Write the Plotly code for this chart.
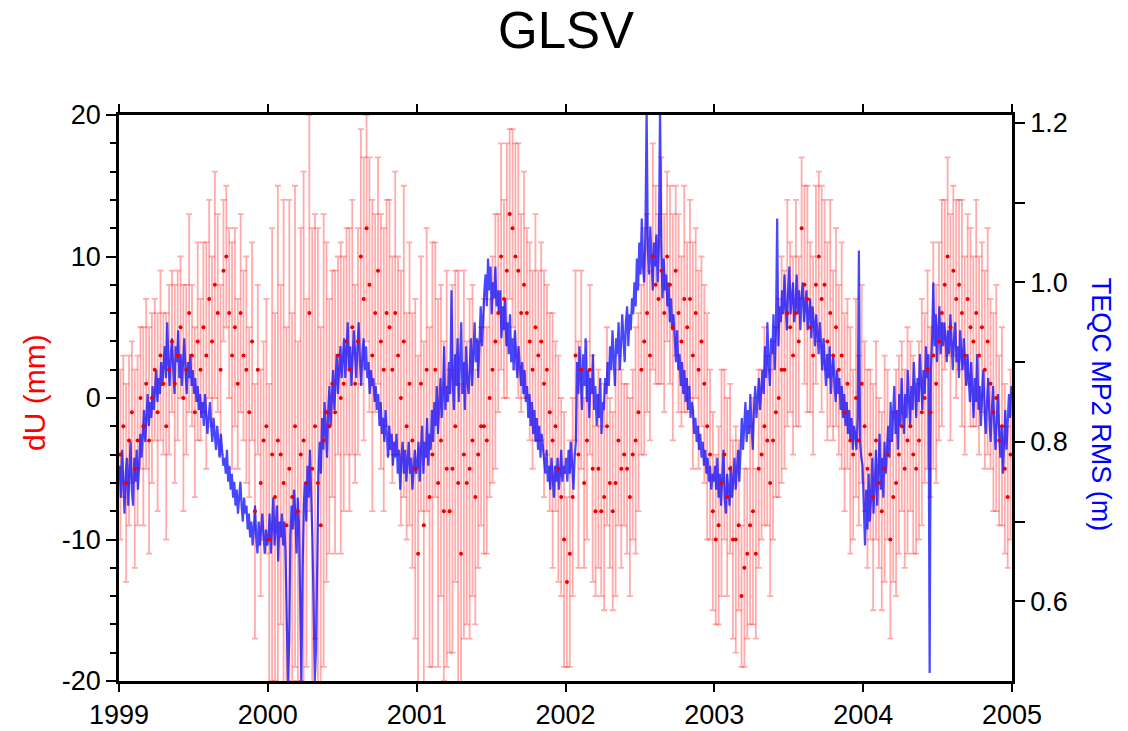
import plotly.graph_objects as go

# ---------------- data ----------------
years = [1999, 2000, 2001, 2002, 2003, 2004]
xtick_vals = [1999, 2000, 2001, 2002, 2003, 2004, 2005]
xtick_text = ["1999", "2000", "2001", "2002", "2003", "2004", "2005"]

# weekly vertical position dU (mm)
du_1999 = [-4, -2, -6, -3, -1, -5, -3, 0,
           -2, 1, -3, 0, 2, -1, 3, 1, -2, 2,
           4, 1, 3, 5, 0, 2, 6, 3, -1, 4, 2,
           5, 3, 7, 4, 8, 6, 2, 9, 10, 6, 3, 5, 1,
           6, 3, 2, -1, 4, -8, 2, -6, -3, -2]
du_2000 = [-10, -4, -7, -3, -4, -6, -9, -5, -7, -2, -8,
           -4, -3, -6, 6, -5, -2, -6, -9, -3, -1,
           -2, 1, -1, 3, 0, 1, 4, 2, 5, 1,
           4, 10, 7, 12, 8, 3, 6, 9, 4, 2, 6,
           5, 2, 6, 3, 0, 4, -2, 1, -3, -5]
du_2001 = [-11, 1, -9, 2, -7, -4, 2, -6, -3, -8, -5,
           -8, -5, -2, -6, -11, -4, -6, -5, -3, -7,
           -4, -2, -2, -3, 0, 2, 4, 6,
           10, 7, 9, 13, 12, 10, 9, 6, 8, 6, 4,
           2, 5, 3, 4, 1, 2, -1, -3, -2, -5, -7, -10]
du_2002 = [-13, -11, -7, 3, -4, 2, -6,
           -3, 2, -5, -8, -5, -8, -7, -2,
           -6, -8, -6, -3, -5, -4, -5, -7, -4, -3,
           -1, 2, 4, 6, 3, 10,
           8, 7, 9, 6, 10, 8, 5, 9, 6, 4, 7,
           5, 7, 3, 6, 2, 4, 1, -2, -4, -8]
du_2003 = [-10, -9, -6, -4, -7, -5, -10, -10, -9,
           -14, -12, -11, -9, -8, -11, -5, -4,
           -2, -3, -6, -3, -1, 0, 2,
           2, 6, 5, 3, 6, 4, 12, 8, 7, 5, 3,
           8, 10, 7, 8, 4, 6, 3, 5, 2, 3,
           -1, 1, -3, -4, 0, -3, 1]
du_2004 = [-2, -5, -4, -7, -3, -6, -8, -5, -4,
           -10, -7, -6, -4, -2, -5, -3, -2, -4, -5,
           -3, -1, 0, 2, -1, 3, 1,
           4, 6, 8, 10, 5, 9, 7, 8, 6, 3, 7,
           5, 4, 6, 3, 5, 2, 4, 1,
           -1, 0, -3, -2, -5, -7, -4]

# weekly dU uncertainty (mm)
err_1999 = [6, 5, 7, 6, 5, 7, 6, 5,
            7, 6, 8, 6, 5, 7, 6, 5, 8, 6,
            5, 7, 6, 5, 8, 6, 7, 5, 6, 7, 5,
            6, 8, 7, 6, 8, 7, 6, 5, 5, 6, 8, 7, 6,
            7, 6, 8, 6, 7, 9, 6, 8, 7, 9]
err_2000 = [11, 16, 13, 18, 12, 20, 14, 19, 13, 17, 12,
            16, 19, 13, 14, 17, 15, 18, 14, 16, 12,
            9, 8, 10, 7, 11, 9, 8, 10, 9, 7,
            8, 9, 10, 8, 9, 11, 7, 8, 9, 10, 8,
            9, 8, 10, 7, 9, 11, 8, 10, 9, 12]
err_2001 = [14, 9, 13, 10, 12, 15, 9, 13, 11, 12, 14,
            10, 13, 11, 15, 12, 13, 10, 12, 11, 9,
            8, 7, 9, 8, 7, 8, 9, 7,
            8, 7, 9, 6, 7, 8, 9, 7, 8, 6, 7,
            7, 8, 6, 7, 8, 6, 7, 9, 6, 8, 7, 9]
err_2002 = [6, 8, 7, 6, 8, 7, 6,
            7, 6, 8, 6, 7, 6, 8, 7,
            6, 7, 8, 6, 7, 5, 6, 7, 6, 8,
            7, 6, 8, 7, 6, 8,
            7, 6, 8, 7, 6, 7, 8, 6, 7, 6, 8,
            6, 7, 8, 6, 7, 6, 7, 8, 6, 7]
err_2003 = [6, 7, 8, 6, 7, 6, 7, 8, 6,
            5, 7, 6, 7, 8, 6, 7, 6,
            7, 6, 8, 7, 6, 7, 8,
            7, 8, 6, 7, 8, 6, 5, 7, 8, 6, 7,
            7, 6, 8, 6, 7, 8, 6, 7, 6, 8,
            7, 6, 8, 6, 7, 6, 7]
err_2004 = [6, 7, 6, 8, 7, 6, 7, 8, 6,
            7, 6, 8, 7, 6, 7, 8, 6, 7, 6,
            7, 8, 6, 7, 6, 8, 7,
            7, 8, 6, 7, 8, 6, 7, 6, 8, 7, 6,
            7, 6, 8, 7, 6, 7, 8, 6,
            7, 8, 6, 7, 6, 5, 6]

# TEQC MP2 RMS (m), one sample every 3 days
mp2_1999 = [0.77, 0.73, 0.79, 0.75, 0.71, 0.76, 0.78, 0.72, 0.77, 0.80, 0.74, 0.72, 0.78, 0.75, 0.79, 0.74, 0.77, 0.81, 0.78,
            0.81, 0.84, 0.80, 0.83, 0.86, 0.82, 0.85, 0.83, 0.87, 0.84, 0.86, 0.89, 0.85, 0.88, 0.86, 0.90, 0.87, 0.89,
            0.92, 0.88, 0.95, 0.90, 0.87, 0.91, 0.93, 0.89, 0.86, 0.92, 0.90, 0.94, 0.88, 0.91, 0.87, 0.90, 0.93, 0.89, 0.86, 0.90, 0.88, 0.91, 0.87, 0.89, 0.86,
            0.88, 0.85, 0.87, 0.84, 0.86, 0.83, 0.85, 0.82, 0.86, 0.84, 0.81, 0.83, 0.85, 0.82, 0.80, 0.83, 0.81, 0.79, 0.82, 0.80, 0.78, 0.81, 0.79, 0.77,
            0.78, 0.76, 0.79, 0.75, 0.77, 0.74, 0.76, 0.73, 0.75, 0.72, 0.74, 0.71, 0.73, 0.75, 0.72, 0.70, 0.73, 0.71,
            0.72, 0.69, 0.71, 0.68, 0.70, 0.67, 0.69, 0.72, 0.68, 0.66, 0.70, 0.67, 0.69, 0.71, 0.68, 0.66, 0.69, 0.67]
mp2_2000 = [0.68, 0.71, 0.66, 0.70, 0.73, 0.67, 0.69, 0.72, 0.65, 0.70, 0.68, 0.71, 0.67,
            0.70, 0.66, 0.58, 0.50, 0.55, 0.68, 0.72, 0.69, 0.74, 0.71, 0.66, 0.73, 0.70, 0.62, 0.50, 0.64,
            0.72, 0.75, 0.70, 0.77, 0.73, 0.79, 0.74, 0.68, 0.60, 0.50, 0.54, 0.66, 0.76,
            0.80, 0.76, 0.83, 0.79, 0.85, 0.81, 0.78, 0.84, 0.87, 0.82, 0.86, 0.89, 0.84, 0.88, 0.91, 0.86, 0.89, 0.92, 0.88,
            0.90, 0.93, 0.88, 0.91, 0.95, 0.89, 0.92, 0.87, 0.90, 0.94, 0.91, 0.88, 0.92, 0.95, 0.90, 0.87, 0.91, 0.93, 0.89, 0.92, 0.88, 0.90, 0.86, 0.89, 0.87,
            0.88, 0.85, 0.87, 0.84, 0.86, 0.82, 0.85, 0.81, 0.83, 0.80, 0.84, 0.81, 0.78, 0.82, 0.79, 0.81, 0.77, 0.80,
            0.78, 0.81, 0.76, 0.79, 0.74, 0.78, 0.80, 0.76, 0.79, 0.75, 0.77, 0.80, 0.76, 0.78, 0.74, 0.77, 0.79, 0.76]
mp2_2001 = [0.77, 0.80, 0.75, 0.79, 0.82, 0.76, 0.80, 0.78, 0.83, 0.77, 0.81, 0.79, 0.84,
            0.80, 0.85, 0.82, 0.87, 0.81, 0.84, 0.88, 0.83, 0.86, 0.92, 0.84, 0.87,
            0.85, 0.90, 0.86, 0.99, 0.88, 0.84, 0.91, 0.87, 0.93, 0.85, 0.89, 0.95, 0.86, 0.90, 0.84, 0.92, 0.88, 0.86,
            0.89, 0.93, 0.87, 0.91, 0.95, 0.90, 0.93, 0.88, 0.94, 0.97, 0.92, 0.96, 0.99,
            1.01, 0.97, 1.03, 0.99, 1.02, 0.96, 1.00, 0.98, 1.02, 0.97, 0.99,
            0.96, 0.99, 0.93, 0.97, 0.94, 0.98, 0.92, 0.95, 0.91, 0.96, 0.90, 0.93, 0.89, 0.94, 0.91, 0.88, 0.92, 0.89, 0.87,
            0.90, 0.86, 0.89, 0.85, 0.87, 0.83, 0.86, 0.82, 0.85, 0.81, 0.84, 0.80, 0.83, 0.79, 0.82, 0.78, 0.81, 0.79,
            0.78, 0.76, 0.79, 0.75, 0.77, 0.74, 0.78, 0.76, 0.73, 0.77, 0.75, 0.78, 0.74, 0.76, 0.79, 0.75, 0.77, 0.76]
mp2_2002 = [0.78, 0.75, 0.79, 0.76, 0.80, 0.77, 0.74, 0.78, 0.80,
            0.90, 0.86, 0.92, 0.88, 0.84, 0.91, 0.87, 0.93, 0.85, 0.89, 0.83, 0.88, 0.86, 0.91, 0.84, 0.87, 0.82, 0.86, 0.83, 0.88, 0.81, 0.85,
            0.84, 0.88, 0.86, 0.90, 0.87, 0.92, 0.89, 0.94, 0.90, 0.87, 0.93, 0.91, 0.95, 0.89, 0.92, 0.96, 0.93, 0.90, 0.95, 0.97, 0.92, 0.96, 0.94, 0.98,
            0.96, 1.00, 0.97, 1.03, 0.99, 1.05, 1.01, 1.08, 1.02, 1.00, 1.06, 1.22, 1.04, 1.01, 1.07, 1.03, 0.99, 1.05,
            1.02, 1.06, 1.00, 1.04, 1.22, 1.05, 0.98, 1.03, 0.99, 1.01, 0.97, 1.00, 0.95, 0.98, 0.94, 0.96,
            0.93, 0.90, 0.94, 0.89, 0.91, 0.87, 0.90, 0.86, 0.89, 0.85, 0.88, 0.84, 0.87, 0.83, 0.85,
            0.84, 0.81, 0.83, 0.80, 0.82, 0.79, 0.81, 0.78, 0.80, 0.77, 0.79, 0.76, 0.78, 0.75, 0.77, 0.74, 0.76, 0.75]
mp2_2003 = [0.77, 0.74, 0.78, 0.73, 0.76, 0.72, 0.75, 0.79, 0.73, 0.71, 0.76, 0.74, 0.72, 0.77, 0.73, 0.75, 0.78, 0.74, 0.76, 0.79, 0.75,
            0.80, 0.83, 0.79, 0.82, 0.85, 0.80, 0.84, 0.81, 0.86, 0.82, 0.79, 0.84, 0.87, 0.83, 0.85, 0.88, 0.84, 0.86,
            0.89, 0.86, 0.92, 0.88, 0.95, 0.90, 0.87, 0.93, 0.91, 0.96, 0.89, 0.94, 1.08, 0.92, 0.97,
            0.95, 0.99, 0.96, 1.01, 0.97, 0.94, 0.99, 1.02, 0.96, 0.98, 1.00, 0.95, 0.97, 1.01, 0.96, 0.99, 0.94, 0.98, 1.00, 0.95, 0.97, 0.99, 0.94, 0.96, 0.98, 0.93, 0.97, 0.95, 0.92, 0.96, 0.94, 0.91, 0.95,
            0.92, 0.89, 0.93, 0.90, 0.87, 0.91, 0.88, 0.92, 0.86, 0.89, 0.91, 0.87, 0.85, 0.89, 0.86, 0.88, 0.84, 0.87, 0.83, 0.86, 0.82, 0.85, 0.81, 0.84, 0.80, 0.83, 0.79, 0.82,
            0.81, 0.79, 0.83, 1.04, 0.80, 0.78, 0.77]
mp2_2004 = [0.72, 0.67, 0.74, 0.69, 0.76, 0.70, 0.73, 0.78, 0.71,
            0.75, 0.79, 0.72, 0.77, 0.81, 0.74, 0.78, 0.73, 0.80, 0.76, 0.79,
            0.82, 0.78, 0.85, 0.80, 0.83, 0.87, 0.81, 0.84, 0.79, 0.86, 0.82, 0.88, 0.84, 0.81, 0.86, 0.83, 0.89, 0.85, 0.82, 0.87, 0.84, 0.90, 0.86, 0.83, 0.88, 0.85, 0.91, 0.87, 0.84, 0.89, 0.86, 0.92, 0.88,
            0.91, 0.51, 0.89, 0.93, 1.00, 0.92, 0.96, 0.90, 0.94, 0.97, 0.91, 0.95, 0.92,
            0.95, 0.93, 0.90, 0.94, 0.91, 0.96, 0.92, 0.89, 0.93, 0.95, 0.90, 0.92, 0.88, 0.94, 0.91, 0.89, 0.93, 0.90, 0.87, 0.91,
            0.88, 0.85, 0.90, 0.86, 0.83, 0.88, 0.85, 0.91, 0.84, 0.87, 0.82, 0.86, 0.89, 0.84, 0.81, 0.85, 0.88, 0.83, 0.80, 0.84, 0.87, 0.82, 0.79, 0.83, 0.86, 0.81, 0.78, 0.82, 0.76, 0.80, 0.84, 0.79, 0.82, 0.86, 0.83, 0.87]

du_by_year = [du_1999, du_2000, du_2001, du_2002, du_2003, du_2004]
err_by_year = [err_1999, err_2000, err_2001, err_2002, err_2003, err_2004]
mp2_by_year = [mp2_1999, mp2_2000, mp2_2001, mp2_2002, mp2_2003, mp2_2004]

# ---------------- assemble ----------------
x_du, y_du, e_du = [], [], []
for yr, vals, errs in zip(years, du_by_year, err_by_year):
    n = len(vals)
    for k, (v, e) in enumerate(zip(vals, errs)):
        x_du.append(yr + (k + 0.5) / n)
        y_du.append(v)
        e_du.append(e)

x_mp, y_mp = [], []
for yr, vals in zip(years, mp2_by_year):
    n = len(vals)
    for k, v in enumerate(vals):
        x_mp.append(yr + (k + 0.5) / n)
        y_mp.append(v)

FONT = "Liberation Sans, Arial, Helvetica, sans-serif"
TICK_SIZE = 27

fig = go.Figure()

# error bars (pink)
fig.add_trace(go.Scatter(
    x=x_du, y=y_du, mode="markers", yaxis="y",
    marker=dict(size=4, color="rgba(255,0,0,0)"),
    error_y=dict(type="data", array=e_du, visible=True,
                 color="rgba(255,0,0,0.33)", thickness=1.8, width=3),
    showlegend=False, hoverinfo="skip"))

# MP2 RMS line (blue)
fig.add_trace(go.Scatter(
    x=x_mp, y=y_mp, mode="lines", yaxis="y2",
    line=dict(color="rgba(0,0,255,0.72)", width=2.2),
    showlegend=False, hoverinfo="skip"))

# dU points (red) on top
fig.add_trace(go.Scatter(
    x=x_du, y=y_du, mode="markers", yaxis="y3",
    marker=dict(size=4, color="rgb(235,0,0)"),
    showlegend=False, hoverinfo="skip"))

left_minor = [v for v in range(-18, 20, 2) if v % 10 != 0]

fig.update_layout(
    width=1128, height=731,
    margin=dict(l=119, r=116, t=115, b=50, autoexpand=False),
    paper_bgcolor="white", plot_bgcolor="white",
    font=dict(family=FONT, size=TICK_SIZE, color="black"),
    xaxis=dict(range=[1999, 2005], tickvals=xtick_vals, ticktext=xtick_text,
               ticks="outside", ticklen=8, tickwidth=2, tickcolor="black",
               showline=True, linewidth=2.5, linecolor="black", mirror="ticks",
               showgrid=False, zeroline=False, tickfont=dict(size=TICK_SIZE),
               automargin=False),
    yaxis=dict(range=[-20, 20], tickvals=[-20, -10, 0, 10, 20],
               ticktext=["-20", "-10", "0", "10", "20"],
               ticks="outside", ticklen=10, tickwidth=2, tickcolor="black",
               minor=dict(tickvals=left_minor, ticks="outside", ticklen=6,
                          tickwidth=1.5, tickcolor="black", showgrid=False),
               showline=True, linewidth=2.5, linecolor="black",
               showgrid=False, zeroline=False, tickfont=dict(size=TICK_SIZE),
               automargin=False),
    yaxis2=dict(range=[0.5, 1.21], overlaying="y", side="right",
                tickvals=[0.6, 0.8, 1.0, 1.2], ticktext=["0.6", "0.8", "1.0", "1.2"],
                ticks="outside", ticklen=10, tickwidth=2, tickcolor="black",
                minor=dict(tickvals=[0.7, 0.9, 1.1], ticks="outside", ticklen=10,
                           tickwidth=1.5, tickcolor="black", showgrid=False),
                showline=True, linewidth=2.5, linecolor="black",
                showgrid=False, zeroline=False, tickfont=dict(size=TICK_SIZE),
                automargin=False),
    yaxis3=dict(range=[-20, 20], overlaying="y", visible=False, automargin=False),
    annotations=[
        dict(text="GLSV", xref="paper", yref="paper", x=0.5, y=1, yshift=85,
             xanchor="center", yanchor="middle", showarrow=False,
             font=dict(family=FONT, size=51, color="black")),
        dict(text="dU (mm)", xref="paper", yref="paper", x=0, y=0.509, xshift=-84,
             xanchor="center", yanchor="middle", textangle=-90, showarrow=False,
             font=dict(family=FONT, size=30, color="red")),
        dict(text="TEQC MP2 RMS (m)", xref="paper", yref="paper", x=1, y=0.488, xshift=89,
             xanchor="center", yanchor="middle", textangle=90, showarrow=False,
             font=dict(family=FONT, size=27, color="blue")),
    ],
)

fig.write_html("out.html")
